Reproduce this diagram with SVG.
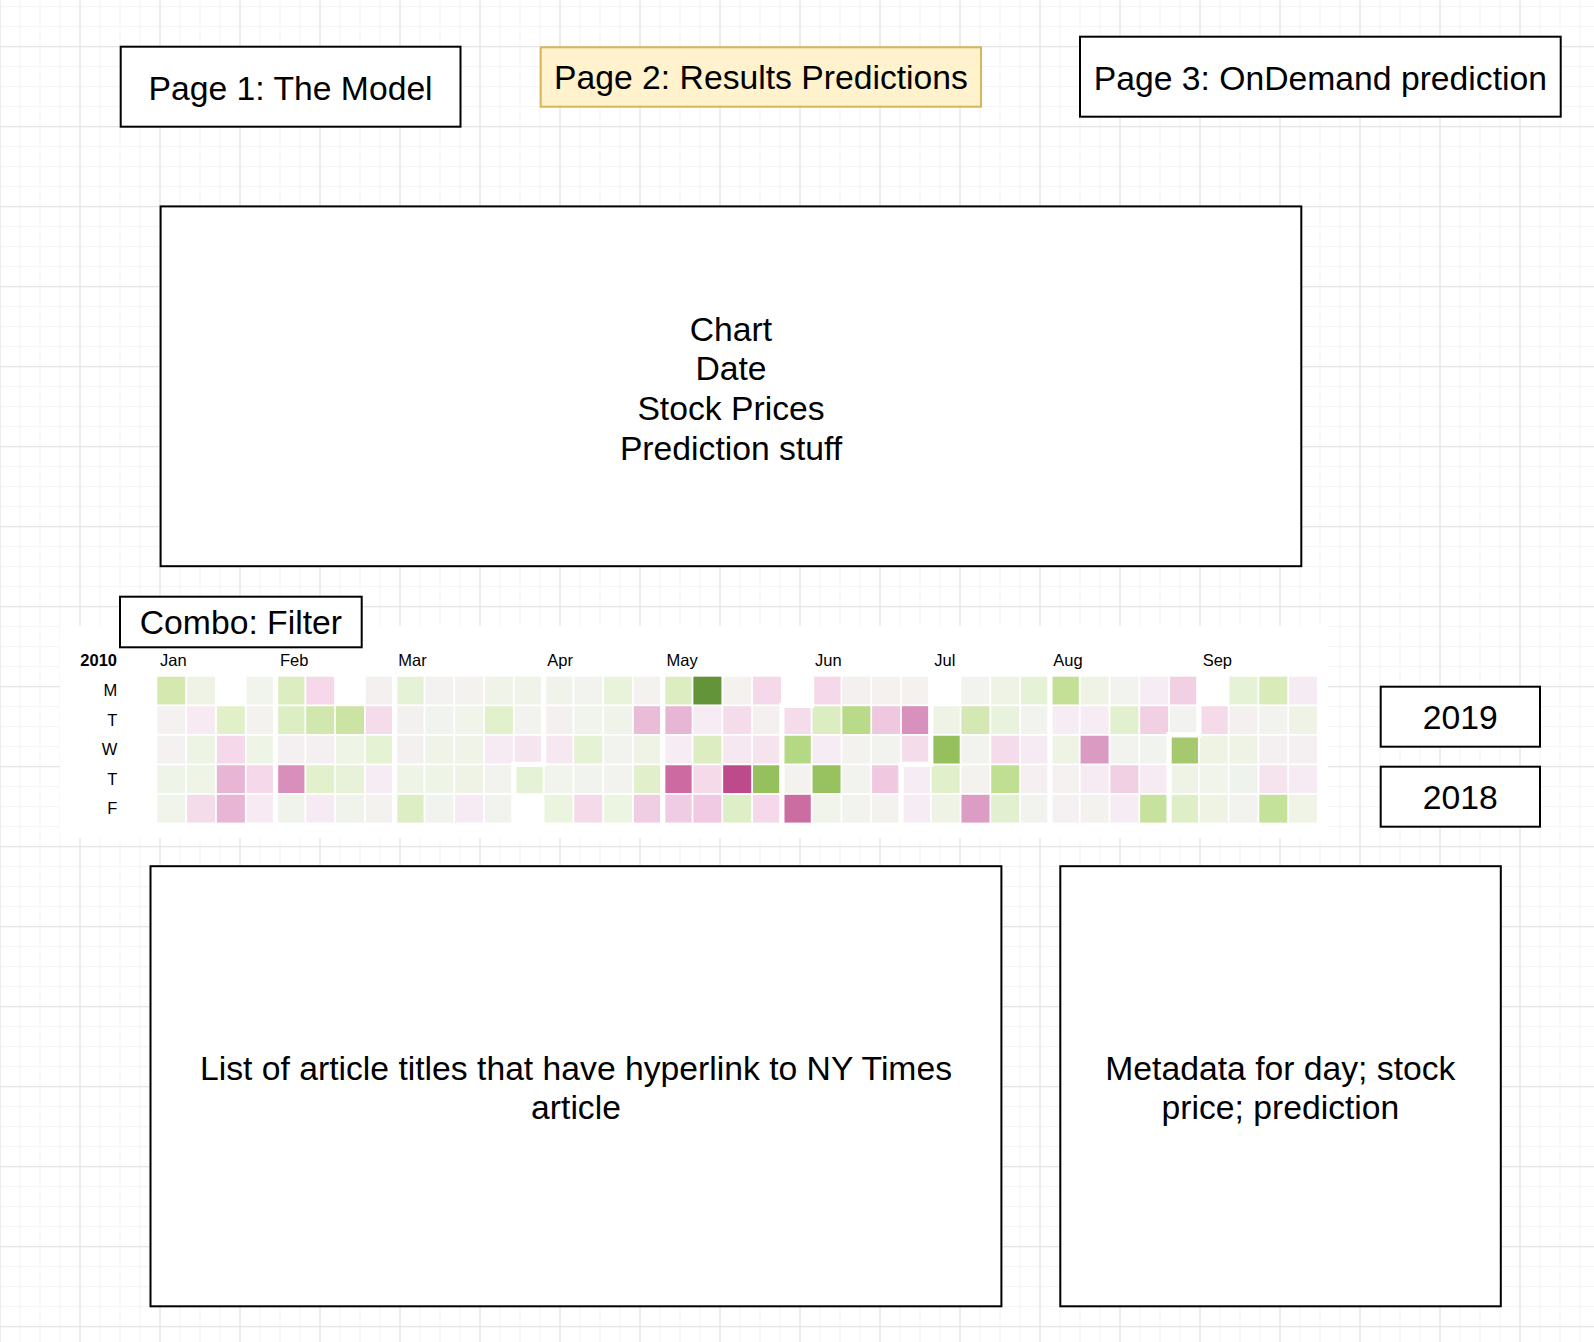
<svg xmlns="http://www.w3.org/2000/svg" xmlns:xlink="http://www.w3.org/1999/xlink" width="1594" height="1342" viewBox="0 0 1594 1342">
<style>
.box{fill:#fff;stroke:#000;stroke-width:2}
.t{font-family:"Liberation Sans",Arial,Helvetica,sans-serif;font-size:33.7px;fill:#000;text-anchor:middle}
.hl{font-family:"Liberation Sans",Arial,Helvetica,sans-serif;font-size:16.5px;fill:#000}
.r{text-anchor:end}
</style>
<defs>
<pattern id="minor" width="20" height="20" x="-0.5" y="6.2" patternUnits="userSpaceOnUse"><path d="M0 0.5H20M0.5 0V20" stroke="#f3f3f3" stroke-width="1" fill="none"/></pattern>
<pattern id="major" width="80" height="80" x="-0.5" y="46.2" patternUnits="userSpaceOnUse"><path d="M0 0.5H80M0.5 0V80" stroke="#e1e1e1" stroke-width="1" fill="none"/></pattern>
<rect id="k" x="0.5" y="0.5" width="16" height="16"/>
</defs>
<rect width="1594" height="1342" fill="#fff"/>
<rect width="1594" height="1342" fill="url(#minor)"/>
<rect width="1594" height="1342" fill="url(#major)"/>

<g id="page1"><rect class="box" x="120.7" y="46.7" width="339.8" height="80"/><text class="t" x="290.6" y="99.5">Page 1: The Model</text></g>
<g id="page2"><rect x="540.7" y="47.3" width="440.3" height="59.4" fill="#fff2cc" stroke="#d6b656" stroke-width="2"/><text class="t" x="761" y="89">Page 2: Results Predictions</text></g>
<g id="page3"><rect class="box" x="1080" y="36.7" width="480.7" height="80"/><text class="t" x="1320.4" y="90.3">Page 3: OnDemand prediction</text></g>

<g id="chart"><rect class="box" x="160.6" y="206.4" width="1140.7" height="359.8"/>
<text class="t" x="731" y="340.5">Chart</text>
<text class="t" x="731" y="380.2">Date</text>
<text class="t" x="731" y="419.9">Stock Prices</text>
<text class="t" x="731" y="459.6">Prediction stuff</text></g>

<g id="heatmap">
<rect x="60" y="625.7" width="1267.7" height="212.6" fill="#fff"/>
<text class="hl r" x="117" y="666" font-weight="bold">2010</text>
<text class="hl" x="160" y="666">Jan</text>
<text class="hl" x="280" y="666">Feb</text>
<text class="hl" x="398.3" y="666">Mar</text>
<text class="hl" x="547.3" y="666">Apr</text>
<text class="hl" x="666.5" y="666">May</text>
<text class="hl" x="815" y="666">Jun</text>
<text class="hl" x="934.3" y="666">Jul</text>
<text class="hl" x="1053.3" y="666">Aug</text>
<text class="hl" x="1202.7" y="666">Sep</text>
<text class="hl r" x="117.3" y="696">M</text>
<text class="hl r" x="117.3" y="725.5">T</text>
<text class="hl r" x="117.3" y="755">W</text>
<text class="hl r" x="117.3" y="784.5">T</text>
<text class="hl r" x="117.3" y="814">F</text>
<g transform="translate(156.4,675.8) scale(1.752,1.737)">
<g><use href="#k" y="0" fill="#d5e8b0"/><use href="#k" y="17" fill="#f4f1f0"/><use href="#k" y="34" fill="#f4f2f0"/><use href="#k" y="51" fill="#eff4e8"/><use href="#k" y="68" fill="#f0f4ea"/></g>
<g transform="translate(17)"><use href="#k" y="0" fill="#eef3e6"/><use href="#k" y="17" fill="#f7eaf2"/><use href="#k" y="34" fill="#edf4e3"/><use href="#k" y="51" fill="#eef4e6"/><use href="#k" y="68" fill="#f5dcea"/></g>
<g transform="translate(34)"><use href="#k" y="17" fill="#e1f0c9"/><use href="#k" y="34" fill="#f5d9ea"/><use href="#k" y="51" fill="#e8b5d4"/><use href="#k" y="68" fill="#e8b6d5"/></g>
<g transform="translate(51)"><use href="#k" y="0" fill="#f0f4ec"/><use href="#k" y="17" fill="#f3f2ef"/><use href="#k" y="34" fill="#eef4e6"/><use href="#k" y="51" fill="#f5d8e9"/><use href="#k" y="68" fill="#f7eaf2"/></g>
<g transform="translate(68)"><use href="#k" y="0" fill="#dcedc1"/><use href="#k" y="17" fill="#ddeec4"/><use href="#k" y="34" fill="#f4eff0"/><use href="#k" y="51" fill="#d98fbb"/><use href="#k" y="68" fill="#f0f3ec"/></g>
<g transform="translate(85)"><use href="#k" y="0" fill="#f5d9ea"/><use href="#k" y="17" fill="#d2e7ae"/><use href="#k" y="34" fill="#f4eff0"/><use href="#k" y="51" fill="#e2f0cc"/><use href="#k" y="68" fill="#f6ebf2"/></g>
<g transform="translate(102)"><use href="#k" y="17" fill="#cce4a3"/><use href="#k" y="34" fill="#eef4e6"/><use href="#k" y="51" fill="#e8f2d8"/><use href="#k" y="68" fill="#f0f3ec"/></g>
<g transform="translate(119)"><use href="#k" y="0" fill="#f4f0f0"/><use href="#k" y="17" fill="#f5dcea"/><use href="#k" y="34" fill="#e5f2d3"/><use href="#k" y="51" fill="#f6ecf3"/><use href="#k" y="68" fill="#f3f2ef"/></g>
<g transform="translate(136)"><use href="#k" y="0" fill="#e6f2d6"/><use href="#k" y="17" fill="#f3f1ef"/><use href="#k" y="34" fill="#f3f0f0"/><use href="#k" y="51" fill="#eef4e6"/><use href="#k" y="68" fill="#ddeec4"/></g>
<g transform="translate(153)"><use href="#k" y="0" fill="#f4f1f1"/><use href="#k" y="17" fill="#f1f3ee"/><use href="#k" y="34" fill="#eff3e8"/><use href="#k" y="51" fill="#eef4e6"/><use href="#k" y="68" fill="#f1f3ee"/></g>
<g transform="translate(170)"><use href="#k" y="0" fill="#f3f2ef"/><use href="#k" y="17" fill="#f0f4ea"/><use href="#k" y="34" fill="#eff3e8"/><use href="#k" y="51" fill="#eef3e6"/><use href="#k" y="68" fill="#f6ebf2"/></g>
<g transform="translate(187)"><use href="#k" y="0" fill="#eff3e8"/><use href="#k" y="17" fill="#e2f0cb"/><use href="#k" y="34" fill="#f6ebf3"/><use href="#k" y="51" fill="#f2f2ef"/><use href="#k" y="68" fill="#f2f3ef"/></g>
<g transform="translate(204)"><use href="#k" y="0" fill="#eff3e8"/><use href="#k" y="17" fill="#f2f3ef"/><use href="#k" y="34" fill="#f5e5ef"/><use href="#k" y="51" fill="#e6f2d6"/></g>
<g transform="translate(221)"><use href="#k" y="0" fill="#f0f3ea"/><use href="#k" y="17" fill="#f4f0ef"/><use href="#k" y="34" fill="#f6e8f1"/><use href="#k" y="51" fill="#f1f3ed"/><use href="#k" y="68" fill="#ebf4df"/></g>
<g transform="translate(238)"><use href="#k" y="0" fill="#f2f3ef"/><use href="#k" y="17" fill="#f1f3ed"/><use href="#k" y="34" fill="#e5f2d3"/><use href="#k" y="51" fill="#f1f3ee"/><use href="#k" y="68" fill="#f5dbea"/></g>
<g transform="translate(255)"><use href="#k" y="0" fill="#e8f3da"/><use href="#k" y="17" fill="#f0f3ea"/><use href="#k" y="34" fill="#f2f3ef"/><use href="#k" y="51" fill="#f2f3ef"/><use href="#k" y="68" fill="#ecf4e2"/></g>
<g transform="translate(272)"><use href="#k" y="0" fill="#f3f2ef"/><use href="#k" y="17" fill="#e9bcd7"/><use href="#k" y="34" fill="#eff3e6"/><use href="#k" y="51" fill="#e1f0ca"/><use href="#k" y="68" fill="#efcde3"/></g>
<g transform="translate(289)"><use href="#k" y="0" fill="#dcedc2"/><use href="#k" y="17" fill="#e8b6d5"/><use href="#k" y="34" fill="#f6ecf3"/><use href="#k" y="51" fill="#cc6aa1"/><use href="#k" y="68" fill="#efcce3"/></g>
<g transform="translate(306)"><use href="#k" y="0" fill="#64943a"/><use href="#k" y="17" fill="#f6ecf3"/><use href="#k" y="34" fill="#dcedc2"/><use href="#k" y="51" fill="#f5dbea"/><use href="#k" y="68" fill="#efcae2"/></g>
<g transform="translate(323)"><use href="#k" y="0" fill="#f3f2ef"/><use href="#k" y="17" fill="#f4dceb"/><use href="#k" y="34" fill="#f6e8f1"/><use href="#k" y="51" fill="#bd4b8b"/><use href="#k" y="68" fill="#deeec6"/></g>
<g transform="translate(340)"><use href="#k" y="0" fill="#f5d8e9"/><use href="#k" y="17" fill="#f4f0f0"/><use href="#k" y="34" fill="#f5e3ee"/><use href="#k" y="51" fill="#96c05e"/><use href="#k" y="68" fill="#f5d9ea"/></g>
<g transform="translate(357)"><use href="#k" y="17" fill="#f4dceb"/><use href="#k" y="34" fill="#b5d884"/><use href="#k" y="51" fill="#f4f2ef"/><use href="#k" y="68" fill="#cc6da1"/></g>
<g transform="translate(374)"><use href="#k" y="0" fill="#f5d8e9"/><use href="#k" y="17" fill="#dcedc2"/><use href="#k" y="34" fill="#f6ecf3"/><use href="#k" y="51" fill="#98c160"/><use href="#k" y="68" fill="#f0f4ea"/></g>
<g transform="translate(391)"><use href="#k" y="0" fill="#f4f0f0"/><use href="#k" y="17" fill="#b9da88"/><use href="#k" y="34" fill="#f3f2ef"/><use href="#k" y="51" fill="#f2f3ef"/><use href="#k" y="68" fill="#f2f3ef"/></g>
<g transform="translate(408)"><use href="#k" y="0" fill="#f4f1ef"/><use href="#k" y="17" fill="#eec8df"/><use href="#k" y="34" fill="#f2f3ef"/><use href="#k" y="51" fill="#f0c8df"/><use href="#k" y="68" fill="#f4f2ef"/></g>
<g transform="translate(425)"><use href="#k" y="0" fill="#f4f1ef"/><use href="#k" y="17" fill="#d890bc"/><use href="#k" y="34" fill="#f4dceb"/><use href="#k" y="51" fill="#f6ecf3"/><use href="#k" y="68" fill="#f6ecf3"/></g>
<g transform="translate(442)"><use href="#k" y="17" fill="#eff3e6"/><use href="#k" y="34" fill="#96c05e"/><use href="#k" y="51" fill="#e1f0ca"/><use href="#k" y="68" fill="#eef3e6"/></g>
<g transform="translate(459)"><use href="#k" y="0" fill="#f2f3ef"/><use href="#k" y="17" fill="#d5e8b3"/><use href="#k" y="34" fill="#f2f3ef"/><use href="#k" y="51" fill="#f4f2ef"/><use href="#k" y="68" fill="#dc9cc3"/></g>
<g transform="translate(476)"><use href="#k" y="0" fill="#eff3e6"/><use href="#k" y="17" fill="#e9f2dc"/><use href="#k" y="34" fill="#f5dceb"/><use href="#k" y="51" fill="#c0df93"/><use href="#k" y="68" fill="#e3f0cf"/></g>
<g transform="translate(493)"><use href="#k" y="0" fill="#e6f2d6"/><use href="#k" y="17" fill="#f2f3ef"/><use href="#k" y="34" fill="#f6ebf2"/><use href="#k" y="51" fill="#f5eff1"/><use href="#k" y="68" fill="#f2f3ef"/></g>
<g transform="translate(510)"><use href="#k" y="0" fill="#c3e096"/><use href="#k" y="17" fill="#f6ecf3"/><use href="#k" y="34" fill="#eef3e5"/><use href="#k" y="51" fill="#f4f1f0"/><use href="#k" y="68" fill="#f5f0f1"/></g>
<g transform="translate(527)"><use href="#k" y="0" fill="#eff3e6"/><use href="#k" y="17" fill="#f6ecf3"/><use href="#k" y="34" fill="#da9bc2"/><use href="#k" y="51" fill="#f6ebf2"/><use href="#k" y="68" fill="#f4f2ef"/></g>
<g transform="translate(544)"><use href="#k" y="0" fill="#f2f3ef"/><use href="#k" y="17" fill="#e3f0cf"/><use href="#k" y="34" fill="#f2f3ef"/><use href="#k" y="51" fill="#f1d0e4"/><use href="#k" y="68" fill="#f6ecf3"/></g>
<g transform="translate(561)"><use href="#k" y="0" fill="#f6ecf3"/><use href="#k" y="17" fill="#f1d0e4"/><use href="#k" y="34" fill="#f1f3ee"/><use href="#k" y="51" fill="#f6ebf2"/><use href="#k" y="68" fill="#c6e29d"/></g>
<g transform="translate(578)"><use href="#k" y="0" fill="#f1d0e4"/><use href="#k" y="17" fill="#f2f3ef"/><use href="#k" y="34" fill="#a5c96e"/><use href="#k" y="51" fill="#eef3e6"/><use href="#k" y="68" fill="#deeec6"/></g>
<g transform="translate(595)"><use href="#k" y="17" fill="#f5dbea"/><use href="#k" y="34" fill="#eef3e4"/><use href="#k" y="51" fill="#f0f4ea"/><use href="#k" y="68" fill="#eef3e4"/></g>
<g transform="translate(612)"><use href="#k" y="0" fill="#e6f2d6"/><use href="#k" y="17" fill="#f4f0f0"/><use href="#k" y="34" fill="#eff3e6"/><use href="#k" y="51" fill="#eff3ee"/><use href="#k" y="68" fill="#f2f3ef"/></g>
<g transform="translate(629)"><use href="#k" y="0" fill="#d8ebb8"/><use href="#k" y="17" fill="#f2f2ee"/><use href="#k" y="34" fill="#f4eff0"/><use href="#k" y="51" fill="#f5e3ee"/><use href="#k" y="68" fill="#c5e29b"/></g>
<g transform="translate(646)"><use href="#k" y="0" fill="#f5ebf2"/><use href="#k" y="17" fill="#eff3e6"/><use href="#k" y="34" fill="#f4eff0"/><use href="#k" y="51" fill="#f6ebf2"/><use href="#k" y="68" fill="#f0f4e6"/></g>
<path d="M68,0V85M136,0V85M221,0V51H204V85M289,0V85M374,0V17H357V85M442,0V51H425V85M510,0V85M595,0V34H578V85" fill="none" stroke="#fff" stroke-width="3"/>
</g>
</g>

<g id="combo"><rect class="box" x="120" y="596.7" width="241.7" height="50.6"/><text class="t" x="240.9" y="634.3">Combo: Filter</text></g>
<g id="y2019"><rect class="box" x="1380.7" y="686.7" width="159.3" height="60"/><text class="t" x="1460.3" y="729.3">2019</text></g>
<g id="y2018"><rect class="box" x="1380.7" y="766.7" width="159.3" height="60"/><text class="t" x="1460.3" y="809.3">2018</text></g>

<g id="articles"><rect class="box" x="150.5" y="866.2" width="850.9" height="440.1"/>
<text class="t" x="576" y="1079.5">List of article titles that have hyperlink to NY Times</text>
<text class="t" x="576" y="1119.2">article</text></g>
<g id="metadata"><rect class="box" x="1060.3" y="866.2" width="440.5" height="440.1"/>
<text class="t" x="1280.4" y="1079.5">Metadata for day; stock</text>
<text class="t" x="1280.4" y="1119.2">price; prediction</text></g>

<g id="connectors"/>
</svg>
